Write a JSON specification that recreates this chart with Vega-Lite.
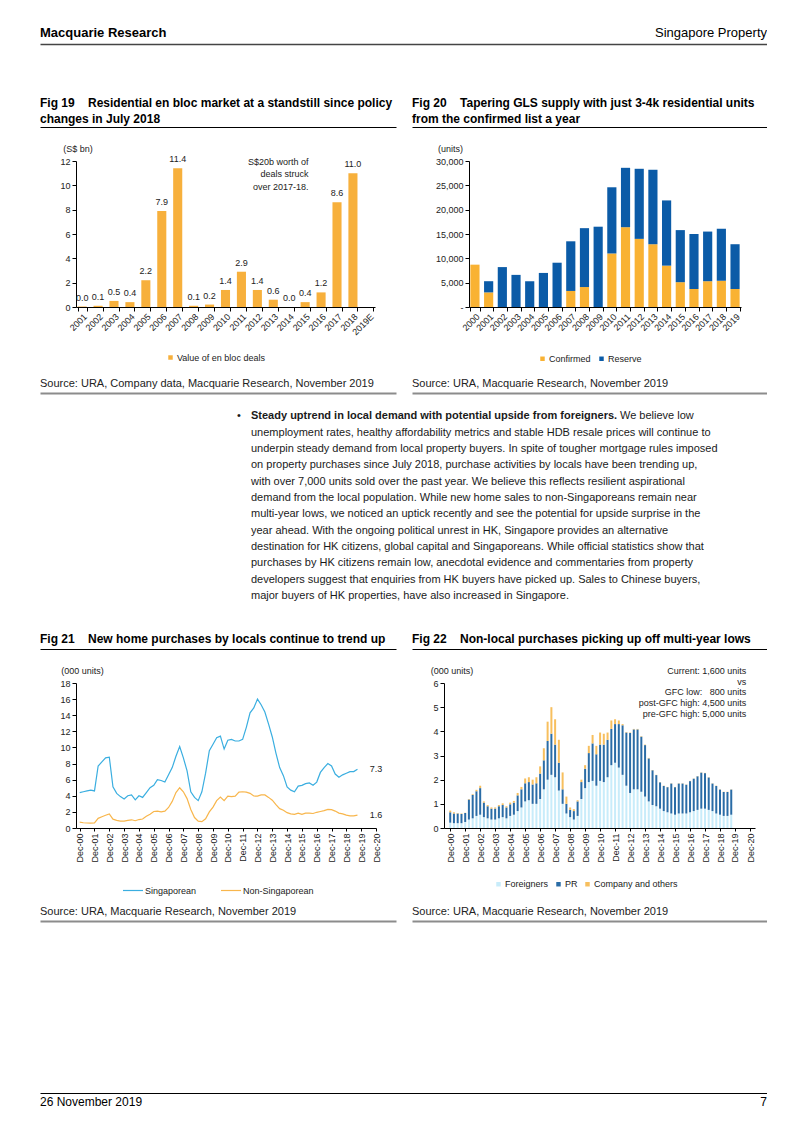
{
"$schema":"https://vega.github.io/schema/vega-lite/v6.json",
"background":"white",
"padding":{"left":37,"top":22,"right":0,"bottom":0},
"config":{"view":{"stroke":null},"font":"Liberation Sans","axis":{"grid":false,"labelFontSize":9,"labelColor":"#222","titleFontSize":9,"titleFontWeight":"normal","titleColor":"#222","domainColor":"#000","tickColor":"#000","labelPadding":2,"labelOverlap":false},"legend":{"labelFontSize":9,"labelColor":"#222","padding":0,"labelOffset":2,"columnPadding":6,"rowPadding":0},"text":{"color":"#222"}},
"datasets":{
"ord":[{"key":"Foreigners","rank":1},{"key":"PR","rank":2},{"key":"Company and others","rank":3}],
"enbloc":[{"year":"2001","v":0.04},{"year":"2002","v":0.1},{"year":"2003","v":0.5},{"year":"2004","v":0.4},{"year":"2005","v":2.2},{"year":"2006","v":7.9},{"year":"2007","v":11.4},{"year":"2008","v":0.1},{"year":"2009","v":0.2},{"year":"2010","v":1.4},{"year":"2011","v":2.9},{"year":"2012","v":1.4},{"year":"2013","v":0.6},{"year":"2014","v":0.0},{"year":"2015","v":0.4},{"year":"2016","v":1.2},{"year":"2017","v":8.6},{"year":"2018","v":11.0},{"year":"2019E","v":null}],
"gls":[{"year":"2000","Confirmed":8700,"Reserve":0},{"year":"2001","Confirmed":3000,"Reserve":2300},{"year":"2002","Confirmed":0,"Reserve":8200},{"year":"2003","Confirmed":0,"Reserve":6600},{"year":"2004","Confirmed":0,"Reserve":5300},{"year":"2005","Confirmed":0,"Reserve":7000},{"year":"2006","Confirmed":0,"Reserve":9100},{"year":"2007","Confirmed":3300,"Reserve":10200},{"year":"2008","Confirmed":4100,"Reserve":12100},{"year":"2009","Confirmed":0,"Reserve":16500},{"year":"2010","Confirmed":11000,"Reserve":13600},{"year":"2011","Confirmed":16400,"Reserve":12200},{"year":"2012","Confirmed":14000,"Reserve":14400},{"year":"2013","Confirmed":12900,"Reserve":15300},{"year":"2014","Confirmed":8500,"Reserve":13400},{"year":"2015","Confirmed":5100,"Reserve":10700},{"year":"2016","Confirmed":3700,"Reserve":11300},{"year":"2017","Confirmed":5300,"Reserve":10200},{"year":"2018","Confirmed":5400,"Reserve":10700},{"year":"2019","Confirmed":3700,"Reserve":9200}],
"q":[
{"d":"2000-12-01","Singaporean":4.4,"Non-Singaporean":0.72,"Foreigners":0.22,"PR":0.43,"Company and others":0.07},
{"d":"2001-03-01","Singaporean":4.5,"Non-Singaporean":0.65,"Foreigners":0.2,"PR":0.4,"Company and others":0.05},
{"d":"2001-06-01","Singaporean":4.6,"Non-Singaporean":0.62,"Foreigners":0.2,"PR":0.4,"Company and others":0.02},
{"d":"2001-09-01","Singaporean":4.7,"Non-Singaporean":0.6,"Foreigners":0.2,"PR":0.38,"Company and others":0.02},
{"d":"2001-12-01","Singaporean":4.6,"Non-Singaporean":0.63,"Foreigners":0.25,"PR":0.37,"Company and others":0.01},
{"d":"2002-03-01","Singaporean":7.7,"Non-Singaporean":1.2,"Foreigners":0.35,"PR":0.83,"Company and others":0.02},
{"d":"2002-06-01","Singaporean":8.2,"Non-Singaporean":1.4,"Foreigners":0.4,"PR":0.97,"Company and others":0.03},
{"d":"2002-09-01","Singaporean":8.7,"Non-Singaporean":1.58,"Foreigners":0.5,"PR":1.02,"Company and others":0.06},
{"d":"2002-12-01","Singaporean":8.8,"Non-Singaporean":1.75,"Foreigners":0.55,"PR":1.1,"Company and others":0.1},
{"d":"2003-03-01","Singaporean":5.1,"Non-Singaporean":1.1,"Foreigners":0.45,"PR":0.6,"Company and others":0.05},
{"d":"2003-06-01","Singaporean":4.3,"Non-Singaporean":0.95,"Foreigners":0.4,"PR":0.5,"Company and others":0.05},
{"d":"2003-09-01","Singaporean":3.9,"Non-Singaporean":0.85,"Foreigners":0.35,"PR":0.45,"Company and others":0.05},
{"d":"2003-12-01","Singaporean":3.6,"Non-Singaporean":0.85,"Foreigners":0.35,"PR":0.45,"Company and others":0.05},
{"d":"2004-03-01","Singaporean":4.0,"Non-Singaporean":0.95,"Foreigners":0.4,"PR":0.5,"Company and others":0.05},
{"d":"2004-06-01","Singaporean":4.1,"Non-Singaporean":1.02,"Foreigners":0.45,"PR":0.5,"Company and others":0.07},
{"d":"2004-09-01","Singaporean":3.5,"Non-Singaporean":0.9,"Foreigners":0.4,"PR":0.45,"Company and others":0.05},
{"d":"2004-12-01","Singaporean":4.0,"Non-Singaporean":1.05,"Foreigners":0.5,"PR":0.48,"Company and others":0.07},
{"d":"2005-03-01","Singaporean":3.8,"Non-Singaporean":1.12,"Foreigners":0.55,"PR":0.5,"Company and others":0.07},
{"d":"2005-06-01","Singaporean":4.4,"Non-Singaporean":1.45,"Foreigners":0.7,"PR":0.65,"Company and others":0.1},
{"d":"2005-09-01","Singaporean":5.0,"Non-Singaporean":1.7,"Foreigners":0.85,"PR":0.75,"Company and others":0.1},
{"d":"2005-12-01","Singaporean":5.3,"Non-Singaporean":2.05,"Foreigners":1.1,"PR":0.75,"Company and others":0.2},
{"d":"2006-03-01","Singaporean":6.0,"Non-Singaporean":2.1,"Foreigners":1.15,"PR":0.75,"Company and others":0.2},
{"d":"2006-06-01","Singaporean":5.9,"Non-Singaporean":2.0,"Foreigners":1.0,"PR":0.8,"Company and others":0.2},
{"d":"2006-09-01","Singaporean":5.7,"Non-Singaporean":2.1,"Foreigners":1.0,"PR":0.85,"Company and others":0.25},
{"d":"2006-12-01","Singaporean":6.6,"Non-Singaporean":2.55,"Foreigners":1.2,"PR":1.05,"Company and others":0.3},
{"d":"2007-03-01","Singaporean":7.5,"Non-Singaporean":3.3,"Foreigners":1.6,"PR":1.2,"Company and others":0.5},
{"d":"2007-06-01","Singaporean":8.9,"Non-Singaporean":4.4,"Foreigners":2.0,"PR":1.6,"Company and others":0.8},
{"d":"2007-09-01","Singaporean":10.1,"Non-Singaporean":5.0,"Foreigners":2.2,"PR":1.7,"Company and others":1.1},
{"d":"2007-12-01","Singaporean":8.7,"Non-Singaporean":4.5,"Foreigners":2.1,"PR":1.35,"Company and others":1.05},
{"d":"2008-03-01","Singaporean":7.1,"Non-Singaporean":3.65,"Foreigners":1.55,"PR":1.15,"Company and others":0.95},
{"d":"2008-06-01","Singaporean":4.5,"Non-Singaporean":2.3,"Foreigners":1.0,"PR":0.6,"Company and others":0.7},
{"d":"2008-09-01","Singaporean":3.8,"Non-Singaporean":1.3,"Foreigners":0.6,"PR":0.4,"Company and others":0.3},
{"d":"2008-12-01","Singaporean":3.4,"Non-Singaporean":0.85,"Foreigners":0.45,"PR":0.3,"Company and others":0.1},
{"d":"2009-03-01","Singaporean":4.5,"Non-Singaporean":0.78,"Foreigners":0.35,"PR":0.35,"Company and others":0.08},
{"d":"2009-06-01","Singaporean":6.8,"Non-Singaporean":1.15,"Foreigners":0.5,"PR":0.6,"Company and others":0.05},
{"d":"2009-09-01","Singaporean":9.6,"Non-Singaporean":2.0,"Foreigners":1.2,"PR":0.7,"Company and others":0.1},
{"d":"2009-12-01","Singaporean":10.4,"Non-Singaporean":2.6,"Foreigners":1.65,"PR":0.8,"Company and others":0.15},
{"d":"2010-03-01","Singaporean":11.2,"Non-Singaporean":3.4,"Foreigners":1.9,"PR":1.2,"Company and others":0.3},
{"d":"2010-06-01","Singaporean":11.4,"Non-Singaporean":3.85,"Foreigners":1.95,"PR":1.55,"Company and others":0.35},
{"d":"2010-09-01","Singaporean":9.8,"Non-Singaporean":3.4,"Foreigners":1.75,"PR":1.3,"Company and others":0.35},
{"d":"2010-12-01","Singaporean":10.9,"Non-Singaporean":3.95,"Foreigners":1.95,"PR":1.5,"Company and others":0.5},
{"d":"2011-03-01","Singaporean":11.0,"Non-Singaporean":3.9,"Foreigners":1.9,"PR":1.55,"Company and others":0.45},
{"d":"2011-06-01","Singaporean":10.8,"Non-Singaporean":3.95,"Foreigners":2.1,"PR":1.55,"Company and others":0.3},
{"d":"2011-09-01","Singaporean":10.8,"Non-Singaporean":4.45,"Foreigners":2.6,"PR":1.5,"Company and others":0.35},
{"d":"2011-12-01","Singaporean":11.0,"Non-Singaporean":4.5,"Foreigners":2.7,"PR":1.6,"Company and others":0.2},
{"d":"2012-03-01","Singaporean":12.5,"Non-Singaporean":4.45,"Foreigners":2.5,"PR":1.8,"Company and others":0.15},
{"d":"2012-06-01","Singaporean":14.3,"Non-Singaporean":4.3,"Foreigners":2.2,"PR":2.05,"Company and others":0.05},
{"d":"2012-09-01","Singaporean":14.9,"Non-Singaporean":3.97,"Foreigners":1.75,"PR":2.2,"Company and others":0.02},
{"d":"2012-12-01","Singaporean":16.0,"Non-Singaporean":3.95,"Foreigners":1.45,"PR":2.48,"Company and others":0.02},
{"d":"2013-03-01","Singaporean":15.3,"Non-Singaporean":4.1,"Foreigners":1.6,"PR":2.48,"Company and others":0.02},
{"d":"2013-06-01","Singaporean":14.4,"Non-Singaporean":4.1,"Foreigners":1.6,"PR":2.48,"Company and others":0.02},
{"d":"2013-09-01","Singaporean":12.9,"Non-Singaporean":3.8,"Foreigners":1.5,"PR":2.28,"Company and others":0.02},
{"d":"2013-12-01","Singaporean":11.3,"Non-Singaporean":3.45,"Foreigners":1.3,"PR":2.13,"Company and others":0.02},
{"d":"2014-03-01","Singaporean":9.3,"Non-Singaporean":2.9,"Foreigners":1.1,"PR":1.78,"Company and others":0.02},
{"d":"2014-06-01","Singaporean":7.5,"Non-Singaporean":2.4,"Foreigners":0.95,"PR":1.44,"Company and others":0.01},
{"d":"2014-09-01","Singaporean":6.5,"Non-Singaporean":2.2,"Foreigners":0.9,"PR":1.29,"Company and others":0.01},
{"d":"2014-12-01","Singaporean":5.1,"Non-Singaporean":1.9,"Foreigners":0.8,"PR":1.09,"Company and others":0.01},
{"d":"2015-03-01","Singaporean":4.7,"Non-Singaporean":1.75,"Foreigners":0.7,"PR":1.04,"Company and others":0.01},
{"d":"2015-06-01","Singaporean":4.5,"Non-Singaporean":1.7,"Foreigners":0.65,"PR":1.04,"Company and others":0.01},
{"d":"2015-09-01","Singaporean":5.2,"Non-Singaporean":1.85,"Foreigners":0.6,"PR":1.24,"Company and others":0.01},
{"d":"2015-12-01","Singaporean":5.3,"Non-Singaporean":1.7,"Foreigners":0.55,"PR":1.14,"Company and others":0.01},
{"d":"2016-03-01","Singaporean":5.5,"Non-Singaporean":1.85,"Foreigners":0.6,"PR":1.24,"Company and others":0.01},
{"d":"2016-06-01","Singaporean":5.6,"Non-Singaporean":1.85,"Foreigners":0.6,"PR":1.24,"Company and others":0.01},
{"d":"2016-09-01","Singaporean":5.3,"Non-Singaporean":1.8,"Foreigners":0.6,"PR":1.19,"Company and others":0.01},
{"d":"2016-12-01","Singaporean":5.7,"Non-Singaporean":1.95,"Foreigners":0.65,"PR":1.29,"Company and others":0.01},
{"d":"2017-03-01","Singaporean":6.9,"Non-Singaporean":2.05,"Foreigners":0.7,"PR":1.34,"Company and others":0.01},
{"d":"2017-06-01","Singaporean":7.5,"Non-Singaporean":2.15,"Foreigners":0.75,"PR":1.39,"Company and others":0.01},
{"d":"2017-09-01","Singaporean":8.0,"Non-Singaporean":2.3,"Foreigners":0.8,"PR":1.49,"Company and others":0.01},
{"d":"2017-12-01","Singaporean":7.7,"Non-Singaporean":2.28,"Foreigners":0.8,"PR":1.47,"Company and others":0.01},
{"d":"2018-03-01","Singaporean":6.7,"Non-Singaporean":2.1,"Foreigners":0.75,"PR":1.34,"Company and others":0.01},
{"d":"2018-06-01","Singaporean":6.3,"Non-Singaporean":1.85,"Foreigners":0.7,"PR":1.14,"Company and others":0.01},
{"d":"2018-09-01","Singaporean":6.6,"Non-Singaporean":1.75,"Foreigners":0.6,"PR":1.14,"Company and others":0.01},
{"d":"2018-12-01","Singaporean":6.8,"Non-Singaporean":1.6,"Foreigners":0.55,"PR":1.04,"Company and others":0.01},
{"d":"2019-03-01","Singaporean":7.0,"Non-Singaporean":1.5,"Foreigners":0.5,"PR":0.99,"Company and others":0.01},
{"d":"2019-06-01","Singaporean":7.0,"Non-Singaporean":1.5,"Foreigners":0.5,"PR":0.99,"Company and others":0.01},
{"d":"2019-09-01","Singaporean":7.3,"Non-Singaporean":1.6,"Foreigners":0.55,"PR":1.04,"Company and others":0.01}
]
},
"bounds":"flush",
"spacing":0,
"resolve":{"scale":{"color":"independent"},"legend":{"color":"independent"}},
"vconcat":[
{"width":727,"height":22,"layer":[
 {"data":{"values":[{"t":"Macquarie Research"}]},"mark":{"type":"text","align":"left","fontSize":13,"fontWeight":"bold","color":"#000"},"encoding":{"text":{"field":"t"},"x":{"datum":0,"type":"quantitative","scale":{"domain":[0,1]},"axis":{"orient":"bottom","labels":false,"ticks":false,"title":null,"domainColor":"#444","domainWidth":1.5}}}},
 {"data":{"values":[{"t":"Singapore Property"}]},"mark":{"type":"text","align":"right","fontSize":13,"color":"#000"},"encoding":{"text":{"field":"t"},"x":{"datum":1,"type":"quantitative","axis":{"orient":"bottom","labels":false,"ticks":false,"title":null,"domainColor":"#444","domainWidth":1.5}}}}]},
{"width":1,"height":51,"data":{"values":[{}]},"mark":{"type":"point","opacity":0},"encoding":{}},
{"hconcat":[
 {"width":356,"height":32,"data":{"values":[{"t":"Fig 19\u00a0\u00a0\u00a0\u00a0Residential en bloc market at a standstill since policy","l":1},{"t":"changes in July 2018","l":2}]},"mark":{"type":"text","align":"left","fontSize":12,"fontWeight":"bold","color":"#000"},"encoding":{"text":{"field":"t"},"y":{"field":"l","type":"ordinal","scale":{"type":"point","padding":0.5},"axis":null},"x":{"datum":0,"type":"quantitative","scale":{"domain":[0,1]},"axis":{"orient":"bottom","labels":false,"ticks":false,"title":null,"domainColor":"#000","domainWidth":1.2}}}},
 {"width":16,"height":32,"data":{"values":[{}]},"mark":{"type":"point","opacity":0},"encoding":{}},
 {"width":355,"height":32,"data":{"values":[{"t":"Fig 20\u00a0\u00a0\u00a0\u00a0Tapering GLS supply with just 3-4k residential units","l":1},{"t":"from the confirmed list a year","l":2}]},"mark":{"type":"text","align":"left","fontSize":12,"fontWeight":"bold","color":"#000"},"encoding":{"text":{"field":"t"},"y":{"field":"l","type":"ordinal","scale":{"type":"point","padding":0.5},"axis":null},"x":{"datum":0,"type":"quantitative","scale":{"domain":[0,1]},"axis":{"orient":"bottom","labels":false,"ticks":false,"title":null,"domainColor":"#000","domainWidth":1.2}}}}
],"spacing":0,"bounds":"flush","resolve":{"scale":{"color":"independent"},"legend":{"color":"independent"}}},
{"width":1,"height":66,"data":{"values":[{}]},"mark":{"type":"point","opacity":0},"encoding":{}},
{"hconcat":[
 {"width":36,"height":146,"data":{"values":[{}]},"mark":{"type":"point","opacity":0},"encoding":{}},
 {"width":299,"height":146,"data":{"name":"enbloc"},"layer":[
  {"mark":{"type":"bar"},"encoding":{
   "x":{"field":"year","type":"ordinal","scale":{"domain":["2001","2002","2003","2004","2005","2006","2007","2008","2009","2010","2011","2012","2013","2014","2015","2016","2017","2018","2019E"],"paddingInner":0.43,"paddingOuter":0.1},"axis":{"title":null,"labelAngle":-45,"tickBand":"extent","tickSize":4,"labelPadding":1,"labelOverlap":false}},
   "y":{"field":"v","type":"quantitative","scale":{"domain":[0,12]},"axis":{"values":[0,2,4,6,8,10,12],"title":"(S$ bn)","titleAngle":0,"titleX":1.5,"titleY":-13,"titleAlign":"center","titleBaseline":"middle","tickSize":4,"labelOverlap":false}},
   "color":{"datum":"Value of en bloc deals","scale":{"range":["#f7b03c"]},"legend":{"orient":"none","legendX":90,"legendY":192,"title":null,"direction":"horizontal","symbolType":"square","symbolSize":20}}}},
  {"transform":[{"filter":"datum.v != null"}],"mark":{"type":"text","baseline":"bottom","dy":-4,"fontSize":9},"encoding":{
   "x":{"field":"year","type":"ordinal","axis":{"title":null,"labelAngle":-45,"tickBand":"extent","tickSize":4,"labelPadding":1,"labelOverlap":false}},
   "y":{"field":"v","type":"quantitative","axis":{"values":[0,2,4,6,8,10,12],"title":"(S$ bn)","titleAngle":0,"titleX":1.5,"titleY":-13,"titleAlign":"center","titleBaseline":"middle","tickSize":4,"labelOverlap":false}},
   "text":{"field":"v","type":"quantitative","format":".1f"}}},
  {"data":{"values":[{"t":"S$20b worth of\ndeals struck\nover 2017-18."}]},"mark":{"type":"text","align":"right","baseline":"alphabetic","lineBreak":"\n","lineHeight":12.5,"fontSize":9,"dx":-8},"encoding":{
   "x":{"datum":"2016","type":"ordinal","bandPosition":0,"axis":{"title":null,"labelAngle":-45,"tickBand":"extent","tickSize":4,"labelPadding":1,"labelOverlap":false}},
   "y":{"datum":11.7,"type":"quantitative","axis":{"values":[0,2,4,6,8,10,12],"title":"(S$ bn)","titleAngle":0,"titleX":1.5,"titleY":-13,"titleAlign":"center","titleBaseline":"middle","tickSize":4,"labelOverlap":false}},
   "text":{"field":"t"}}}]},
 {"width":94,"height":146,"data":{"values":[{}]},"mark":{"type":"point","opacity":0},"encoding":{}},
 {"width":272,"height":146,"data":{"name":"gls"},"transform":[{"fold":["Confirmed","Reserve"],"as":["key","val"]}],"mark":{"type":"bar"},"encoding":{
   "x":{"field":"year","type":"ordinal","scale":{"domain":["2000","2001","2002","2003","2004","2005","2006","2007","2008","2009","2010","2011","2012","2013","2014","2015","2016","2017","2018","2019"],"paddingInner":0.33,"paddingOuter":0.1},"axis":{"title":null,"labelAngle":-45,"tickBand":"extent","tickSize":4,"labelPadding":1}},
   "y":{"field":"val","type":"quantitative","stack":"zero","scale":{"domain":[0,30000]},"axis":{"values":[0,5000,10000,15000,20000,25000,30000],"labelExpr":"datum.value == 0 ? '-' : format(datum.value, ',')","title":"(units)","titleAngle":0,"titleX":-19,"titleY":-13,"titleAlign":"center","titleBaseline":"middle","tickSize":4}},
   "color":{"field":"key","type":"nominal","scale":{"domain":["Confirmed","Reserve"],"range":["#f9b233","#0b5ba7"]},"legend":{"orient":"none","legendX":69,"legendY":193,"title":null,"direction":"horizontal","symbolType":"square","symbolSize":20}},
   "order":{"field":"key","sort":"ascending"}}}
],"spacing":0,"bounds":"flush","resolve":{"scale":{"color":"independent"},"legend":{"color":"independent"}}},
{"width":1,"height":214,"data":{"values":[{}]},"mark":{"type":"point","opacity":0},"encoding":{}},
{"hconcat":[
 {"width":356,"height":18,"data":{"values":[{"t":"Source: URA, Company data, Macquarie Research, November 2019"}]},"mark":{"type":"text","align":"left","fontSize":11,"color":"#222"},"encoding":{"text":{"field":"t"},"x":{"datum":0,"type":"quantitative","scale":{"domain":[0,1]},"axis":{"orient":"bottom","labels":false,"ticks":false,"title":null,"domainColor":"#8c8c8c","domainWidth":2}}}},
 {"width":16,"height":18,"data":{"values":[{}]},"mark":{"type":"point","opacity":0},"encoding":{}},
 {"width":355,"height":18,"data":{"values":[{"t":"Source: URA, Macquarie Research, November 2019"}]},"mark":{"type":"text","align":"left","fontSize":11,"color":"#222"},"encoding":{"text":{"field":"t"},"x":{"datum":0,"type":"quantitative","scale":{"domain":[0,1]},"axis":{"orient":"bottom","labels":false,"ticks":false,"title":null,"domainColor":"#8c8c8c","domainWidth":2}}}}
],"spacing":0,"bounds":"flush"},
{"width":1,"height":32.8,"data":{"values":[{}]},"mark":{"type":"point","opacity":0},"encoding":{}},
{"hconcat":[
 {"width":197,"height":196.4,"data":{"values":[{}]},"mark":{"type":"point","opacity":0},"encoding":{}},
 {"width":14,"height":196.4,"data":{"values":[{"t":"\u2022","l":1}]},"mark":{"type":"text","align":"left","fontSize":11,"color":"#1a1a1a"},"encoding":{"text":{"field":"t"},"y":{"field":"l","type":"ordinal","scale":{"type":"point","padding":0.5,"domain":[1,2,3,4,5,6,7,8,9,10,11,12]},"axis":null},"x":{"datum":0,"type":"quantitative","scale":{"domain":[0,1]},"axis":null}}},
 {"width":516,"height":196.4,"layer":[
  {"data":{"values":[{"t":"Steady uptrend in local demand with potential upside from foreigners.","l":1}]},"mark":{"type":"text","align":"left","fontSize":11,"fontWeight":"bold","color":"#1a1a1a"},"encoding":{"text":{"field":"t"},"y":{"field":"l","type":"ordinal","scale":{"type":"point","padding":0.5,"domain":[1,2,3,4,5,6,7,8,9,10,11,12]},"axis":null},"x":{"datum":0,"type":"quantitative","scale":{"domain":[0,1]},"axis":null}}},
  {"data":{"values":[{"t":"We believe low","l":1}]},"mark":{"type":"text","align":"left","fontSize":11,"color":"#1a1a1a","dx":369},"encoding":{"text":{"field":"t"},"y":{"field":"l","type":"ordinal","axis":null},"x":{"datum":0,"type":"quantitative","axis":null}}},
  {"data":{"values":[
   {"t":"unemployment rates, healthy affordability metrics and stable HDB resale prices will continue to","l":2},
   {"t":"underpin steady demand from local property buyers. In spite of tougher mortgage rules imposed","l":3},
   {"t":"on property purchases since July 2018, purchase activities by locals have been trending up,","l":4},
   {"t":"with over 7,000 units sold over the past year. We believe this reflects resilient aspirational","l":5},
   {"t":"demand from the local population. While new home sales to non-Singaporeans remain near","l":6},
   {"t":"multi-year lows, we noticed an uptick recently and see the potential for upside surprise in the","l":7},
   {"t":"year ahead. With the ongoing political unrest in HK, Singapore provides an alternative","l":8},
   {"t":"destination for HK citizens, global capital and Singaporeans. While official statistics show that","l":9},
   {"t":"purchases by HK citizens remain low, anecdotal evidence and commentaries from property","l":10},
   {"t":"developers suggest that enquiries from HK buyers have picked up. Sales to Chinese buyers,","l":11},
   {"t":"major buyers of HK properties, have also increased in Singapore.","l":12}]},"mark":{"type":"text","align":"left","fontSize":11,"color":"#1a1a1a"},"encoding":{"text":{"field":"t"},"y":{"field":"l","type":"ordinal","axis":null},"x":{"datum":0,"type":"quantitative","axis":null}}}]}
],"spacing":0,"bounds":"flush"},
{"width":1,"height":220.2,"data":{"values":[{}]},"mark":{"type":"point","opacity":0},"encoding":{}},
{"hconcat":[
 {"width":356,"height":20,"data":{"values":[{"t":"Fig 21\u00a0\u00a0\u00a0\u00a0New home purchases by locals continue to trend up"}]},"mark":{"type":"text","align":"left","fontSize":12,"fontWeight":"bold","color":"#000"},"encoding":{"text":{"field":"t"},"x":{"datum":0,"type":"quantitative","scale":{"domain":[0,1]},"axis":{"orient":"bottom","labels":false,"ticks":false,"title":null,"domainColor":"#000","domainWidth":1.2}}}},
 {"width":16,"height":20,"data":{"values":[{}]},"mark":{"type":"point","opacity":0},"encoding":{}},
 {"width":355,"height":20,"data":{"values":[{"t":"Fig 22\u00a0\u00a0\u00a0\u00a0Non-local purchases picking up off multi-year lows"}]},"mark":{"type":"text","align":"left","fontSize":12,"fontWeight":"bold","color":"#000"},"encoding":{"text":{"field":"t"},"x":{"datum":0,"type":"quantitative","scale":{"domain":[0,1]},"axis":{"orient":"bottom","labels":false,"ticks":false,"title":null,"domainColor":"#000","domainWidth":1.2}}}}
],"spacing":0,"bounds":"flush"},
{"width":1,"height":53.7,"data":{"values":[{}]},"mark":{"type":"point","opacity":0},"encoding":{}},
{"hconcat":[
 {"width":36,"height":145,"data":{"values":[{}]},"mark":{"type":"point","opacity":0},"encoding":{}},
 {"width":300,"height":145,"layer":[
  {"data":{"name":"q"},"transform":[{"fold":["Singaporean","Non-Singaporean"],"as":["key","val"]}],"mark":{"type":"line","strokeWidth":1.2},"encoding":{
   "x":{"field":"d","type":"temporal","scale":{"domain":[{"year":2000,"month":9,"date":1},{"year":2020,"month":12,"date":1}]},"axis":{"title":null,"values":[{"year":2000,"month":12,"date":1},{"year":2001,"month":12,"date":1},{"year":2002,"month":12,"date":1},{"year":2003,"month":12,"date":1},{"year":2004,"month":12,"date":1},{"year":2005,"month":12,"date":1},{"year":2006,"month":12,"date":1},{"year":2007,"month":12,"date":1},{"year":2008,"month":12,"date":1},{"year":2009,"month":12,"date":1},{"year":2010,"month":12,"date":1},{"year":2011,"month":12,"date":1},{"year":2012,"month":12,"date":1},{"year":2013,"month":12,"date":1},{"year":2014,"month":12,"date":1},{"year":2015,"month":12,"date":1},{"year":2016,"month":12,"date":1},{"year":2017,"month":12,"date":1},{"year":2018,"month":12,"date":1},{"year":2019,"month":12,"date":1},{"year":2020,"month":12,"date":1}],"format":"%b-%y","formatType":"time","labelAngle":-90,"labelOverlap":false,"labelFlush":false,"tickSize":3}},
   "y":{"field":"val","type":"quantitative","scale":{"domain":[0,18]},"axis":{"values":[0,2,4,6,8,10,12,14,16,18],"title":"(000 units)","titleAngle":0,"titleX":6,"titleY":-12.7,"titleAlign":"center","titleBaseline":"middle","tickSize":4,"labelOverlap":false}},
   "color":{"field":"key","type":"nominal","scale":{"domain":["Singaporean","Non-Singaporean"],"range":["#3aaee0","#f8b64c"]},"legend":{"orient":"none","legendX":46,"legendY":196.5,"title":null,"direction":"horizontal","symbolType":"stroke","symbolSize":400,"symbolStrokeWidth":1.2,"labelOffset":1,"columnPadding":21}}}},
  {"data":{"values":[{"t":7.3},{"t":1.6}]},"mark":{"type":"text","fontSize":9},"encoding":{
   "x":{"datum":{"year":2020,"month":12,"date":1},"type":"temporal","axis":{"title":null,"values":[{"year":2000,"month":12,"date":1},{"year":2001,"month":12,"date":1},{"year":2002,"month":12,"date":1},{"year":2003,"month":12,"date":1},{"year":2004,"month":12,"date":1},{"year":2005,"month":12,"date":1},{"year":2006,"month":12,"date":1},{"year":2007,"month":12,"date":1},{"year":2008,"month":12,"date":1},{"year":2009,"month":12,"date":1},{"year":2010,"month":12,"date":1},{"year":2011,"month":12,"date":1},{"year":2012,"month":12,"date":1},{"year":2013,"month":12,"date":1},{"year":2014,"month":12,"date":1},{"year":2015,"month":12,"date":1},{"year":2016,"month":12,"date":1},{"year":2017,"month":12,"date":1},{"year":2018,"month":12,"date":1},{"year":2019,"month":12,"date":1},{"year":2020,"month":12,"date":1}],"format":"%b-%y","formatType":"time","labelAngle":-90,"labelOverlap":false,"labelFlush":false,"tickSize":3}},
   "y":{"field":"t","type":"quantitative","axis":{"values":[0,2,4,6,8,10,12,14,16,18],"title":"(000 units)","titleAngle":0,"titleX":6,"titleY":-12.7,"titleAlign":"center","titleBaseline":"middle","tickSize":4,"labelOverlap":false}},
   "text":{"field":"t","type":"quantitative","format":".1f"}}}]},
 {"width":67.7,"height":145,"data":{"values":[{}]},"mark":{"type":"point","opacity":0},"encoding":{}},
 {"width":311,"height":145,"layer":[
  {"data":{"name":"q"},"transform":[{"fold":["Foreigners","PR","Company and others"],"as":["key","val"]},{"lookup":"key","from":{"data":{"name":"ord"},"key":"key","fields":["rank"]}}],"mark":{"type":"bar","size":2},"encoding":{
   "x":{"field":"d","type":"temporal","scale":{"domain":[{"year":2000,"month":11,"date":1},{"year":2020,"month":12,"date":1}]},"axis":{"title":null,"values":[{"year":2000,"month":12,"date":1},{"year":2001,"month":12,"date":1},{"year":2002,"month":12,"date":1},{"year":2003,"month":12,"date":1},{"year":2004,"month":12,"date":1},{"year":2005,"month":12,"date":1},{"year":2006,"month":12,"date":1},{"year":2007,"month":12,"date":1},{"year":2008,"month":12,"date":1},{"year":2009,"month":12,"date":1},{"year":2010,"month":12,"date":1},{"year":2011,"month":12,"date":1},{"year":2012,"month":12,"date":1},{"year":2013,"month":12,"date":1},{"year":2014,"month":12,"date":1},{"year":2015,"month":12,"date":1},{"year":2016,"month":12,"date":1},{"year":2017,"month":12,"date":1},{"year":2018,"month":12,"date":1},{"year":2019,"month":12,"date":1},{"year":2020,"month":12,"date":1}],"format":"%b-%y","formatType":"time","labelAngle":-90,"labelOverlap":false,"labelFlush":false,"tickSize":3}},
   "y":{"field":"val","type":"quantitative","stack":"zero","scale":{"domain":[0,6]},"axis":{"values":[0,1,2,3,4,5,6],"title":"(000 units)","titleAngle":0,"titleX":7.6,"titleY":-12.7,"titleAlign":"center","titleBaseline":"middle","tickSize":4,"labelOverlap":false}},
   "color":{"field":"key","type":"nominal","scale":{"domain":["Foreigners","PR","Company and others"],"range":["#c8ecfa","#2a6ca6","#f7bf5e"]},"legend":{"orient":"none","legendX":50,"legendY":196.5,"title":null,"direction":"horizontal","symbolType":"square","symbolSize":20,"columnPadding":5}},
   "order":{"field":"rank","type":"quantitative","sort":"ascending"}}},
  {"data":{"values":[{"t":"Current: 1,600 units\nvs\nGFC low:\u00a0\u00a0\u00a0800 units\npost-GFC high: 4,500 units\npre-GFC high: 5,000 units"}]},"mark":{"type":"text","align":"right","baseline":"alphabetic","lineBreak":"\n","lineHeight":10.75,"fontSize":9},"encoding":{
   "x":{"datum":{"year":2020,"month":9,"date":1},"type":"temporal","axis":{"title":null,"values":[{"year":2000,"month":12,"date":1},{"year":2001,"month":12,"date":1},{"year":2002,"month":12,"date":1},{"year":2003,"month":12,"date":1},{"year":2004,"month":12,"date":1},{"year":2005,"month":12,"date":1},{"year":2006,"month":12,"date":1},{"year":2007,"month":12,"date":1},{"year":2008,"month":12,"date":1},{"year":2009,"month":12,"date":1},{"year":2010,"month":12,"date":1},{"year":2011,"month":12,"date":1},{"year":2012,"month":12,"date":1},{"year":2013,"month":12,"date":1},{"year":2014,"month":12,"date":1},{"year":2015,"month":12,"date":1},{"year":2016,"month":12,"date":1},{"year":2017,"month":12,"date":1},{"year":2018,"month":12,"date":1},{"year":2019,"month":12,"date":1},{"year":2020,"month":12,"date":1}],"format":"%b-%y","formatType":"time","labelAngle":-90,"labelOverlap":false,"labelFlush":false,"tickSize":3}},
   "y":{"datum":6.38,"type":"quantitative","axis":{"values":[0,1,2,3,4,5,6],"title":"(000 units)","titleAngle":0,"titleX":7.6,"titleY":-12.7,"titleAlign":"center","titleBaseline":"middle","tickSize":4,"labelOverlap":false}},
   "text":{"field":"t"}}}]}
],"spacing":0,"bounds":"flush","resolve":{"scale":{"color":"independent"},"legend":{"color":"independent"}}},
{"width":1,"height":219.3,"data":{"values":[{}]},"mark":{"type":"point","opacity":0},"encoding":{}},
{"hconcat":[
 {"width":356,"height":18,"data":{"values":[{"t":"Source: URA, Macquarie Research, November 2019"}]},"mark":{"type":"text","align":"left","fontSize":11,"color":"#222"},"encoding":{"text":{"field":"t"},"x":{"datum":0,"type":"quantitative","scale":{"domain":[0,1]},"axis":{"orient":"bottom","labels":false,"ticks":false,"title":null,"domainColor":"#8c8c8c","domainWidth":2}}}},
 {"width":16,"height":18,"data":{"values":[{}]},"mark":{"type":"point","opacity":0},"encoding":{}},
 {"width":355,"height":18,"data":{"values":[{"t":"Source: URA, Macquarie Research, November 2019"}]},"mark":{"type":"text","align":"left","fontSize":11,"color":"#222"},"encoding":{"text":{"field":"t"},"x":{"datum":0,"type":"quantitative","scale":{"domain":[0,1]},"axis":{"orient":"bottom","labels":false,"ticks":false,"title":null,"domainColor":"#8c8c8c","domainWidth":2}}}}
],"spacing":0,"bounds":"flush"},
{"width":1,"height":190,"data":{"values":[{}]},"mark":{"type":"point","opacity":0},"encoding":{}},
{"width":727,"height":18,"layer":[
 {"data":{"values":[{"t":"26 November 2019"}]},"mark":{"type":"text","align":"left","fontSize":12,"color":"#000"},"encoding":{"text":{"field":"t"},"x":{"datum":0,"type":"quantitative","scale":{"domain":[0,1]},"axis":{"orient":"top","labels":false,"ticks":false,"title":null,"domainColor":"#000","domainWidth":1}}}},
 {"data":{"values":[{"t":"7"}]},"mark":{"type":"text","align":"right","fontSize":12,"color":"#000"},"encoding":{"text":{"field":"t"},"x":{"datum":1,"type":"quantitative","axis":{"orient":"top","labels":false,"ticks":false,"title":null,"domainColor":"#000","domainWidth":1}}}}]}
]
}
